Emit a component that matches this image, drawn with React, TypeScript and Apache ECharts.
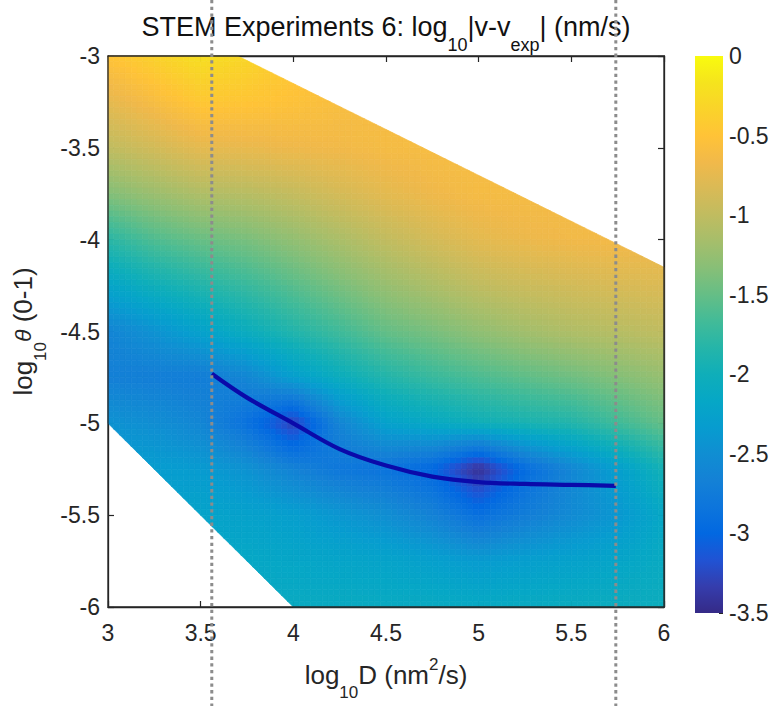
import React, { useEffect, useRef } from "react";
import * as echarts from "echarts";

// ---------------- data ----------------
const X_NODES = [3, 3.25, 3.5, 3.75, 4, 4.25, 4.5, 4.75, 5, 5.25, 5.5, 5.75, 6];
const Y_NODES = [-3, -3.25, -3.5, -3.75, -4, -4.25, -4.5, -4.75, -5, -5.25, -5.5, -5.75, -6];

// log10|v - v_exp| at the nodes, one row per Y_NODES entry (columns follow X_NODES)
const ROW_Y300 = [-0.5, -0.35, -0.22, -0.3, -0.45, -0.55, -0.6, -0.6, -0.6, -0.6, -0.6, -0.6, -0.6];
const ROW_Y325 = [-0.75, -0.6, -0.45, -0.48, -0.52, -0.58, -0.6, -0.6, -0.6, -0.6, -0.6, -0.6, -0.6];
const ROW_Y350 = [-1.0, -0.88, -0.75, -0.72, -0.68, -0.66, -0.62, -0.6, -0.6, -0.6, -0.6, -0.6, -0.6];
const ROW_Y375 = [-1.35, -1.22, -1.1, -1.05, -0.97, -0.86, -0.76, -0.68, -0.62, -0.62, -0.62, -0.62, -0.62];
const ROW_Y400 = [-1.8, -1.6, -1.48, -1.4, -1.27, -1.13, -0.99, -0.87, -0.76, -0.7, -0.66, -0.64, -0.64];
const ROW_Y425 = [-2.2, -2.0, -1.85, -1.72, -1.56, -1.4, -1.24, -1.12, -1.0, -0.93, -0.88, -0.84, -0.82];
const ROW_Y450 = [-2.62, -2.45, -2.25, -2.05, -1.85, -1.68, -1.5, -1.4, -1.28, -1.18, -1.1, -1.05, -1.0];
const ROW_Y475 = [-2.68, -2.7, -2.72, -2.6, -2.3, -2.05, -1.85, -1.72, -1.62, -1.53, -1.45, -1.35, -1.25];
const ROW_Y500 = [-2.45, -2.5, -2.6, -2.88, -3.3, -2.62, -2.25, -2.12, -2.0, -1.92, -1.85, -1.68, -1.5];
const ROW_Y525 = [-2.3, -2.32, -2.35, -2.45, -2.65, -2.8, -2.85, -3.0, -3.45, -2.95, -2.6, -2.3, -1.95];
const ROW_Y550 = [-2.2, -2.22, -2.22, -2.25, -2.3, -2.4, -2.5, -2.65, -2.9, -2.72, -2.55, -2.4, -2.15];
const ROW_Y575 = [-2.15, -2.15, -2.15, -2.15, -2.18, -2.2, -2.22, -2.28, -2.35, -2.3, -2.25, -2.2, -2.1];
const ROW_Y600 = [-2.1, -2.1, -2.1, -2.1, -2.1, -2.1, -2.1, -2.1, -2.12, -2.1, -2.08, -2.06, -2.05];
const FIELD_ROWS = [
  ROW_Y300, ROW_Y325, ROW_Y350, ROW_Y375, ROW_Y400, ROW_Y425, ROW_Y450,
  ROW_Y475, ROW_Y500, ROW_Y525, ROW_Y550, ROW_Y575, ROW_Y600,
];

// edges of the simulated region (straight lines through two points)
const UPPER_EDGE_X = [3.7, 6];
const UPPER_EDGE_Y = [-3, -4.15];
const LOWER_EDGE_X = [3, 4];
const LOWER_EDGE_Y = [-5, -6];

// best-fit curve
const CURVE_X = [3.56, 3.75, 4.0, 4.25, 4.5, 4.75, 5.0, 5.25, 5.5, 5.74];
const CURVE_Y = [-4.73, -4.86, -5.0, -5.14, -5.23, -5.29, -5.32, -5.33, -5.335, -5.34];

// dotted vertical guides
const GUIDE_X = [3.56, 5.74];

const X_RANGE = [3, 6];
const Y_RANGE = [-6, -3];
const C_RANGE = [-3.5, 0];
const TICK_STEP = 0.5;

// ---------------- styling ----------------
const FONT = '"Liberation Sans", Arial, Helvetica, sans-serif';
const INK = "#262626";
const SUBDIV = 8;

// MATLAB parula colormap (every 3rd entry of the 64-entry table)
const PARULA = [
  [0.2081, 0.1663, 0.5292], [0.2081, 0.2386, 0.6771], [0.1253, 0.3242, 0.8303],
  [0.006, 0.4086, 0.8828], [0.0498, 0.4586, 0.8641], [0.0779, 0.504, 0.8384],
  [0.0641, 0.557, 0.824], [0.0265, 0.6137, 0.8135], [0.0228, 0.6535, 0.7768],
  [0.059, 0.6838, 0.7254], [0.1453, 0.7098, 0.6646], [0.2586, 0.7317, 0.5954],
  [0.3953, 0.7459, 0.5244], [0.53, 0.7491, 0.4661], [0.6473, 0.7456, 0.4188],
  [0.7525, 0.7384, 0.3768], [0.8507, 0.7299, 0.336], [0.945, 0.7261, 0.2886],
  [0.999, 0.7653, 0.2164], [0.9789, 0.8271, 0.1633], [0.9589, 0.8949, 0.1132],
  [0.9763, 0.9831, 0.0538],
];

function rgb(c: number[]) {
  return `rgb(${Math.round(c[0] * 255)},${Math.round(c[1] * 255)},${Math.round(c[2] * 255)})`;
}

function parula(t: number) {
  const tt = Math.max(0, Math.min(1, t));
  const n = PARULA.length - 1;
  const f = tt * n;
  const i = Math.min(Math.floor(f), n - 1);
  const u = f - i;
  const a = PARULA[i];
  const b = PARULA[i + 1];
  return rgb([a[0] + (b[0] - a[0]) * u, a[1] + (b[1] - a[1]) * u, a[2] + (b[2] - a[2]) * u]);
}

type P = number[];
function clipHalf(poly: P[], ex: number[], ey: number[], keepBelow: boolean): P[] {
  const s = (p: P) => {
    const ly = ey[0] + ((ey[1] - ey[0]) * (p[0] - ex[0])) / (ex[1] - ex[0]);
    const d = p[1] - ly;
    return keepBelow ? -d : d;
  };
  const out: P[] = [];
  for (let i = 0; i < poly.length; i++) {
    const A = poly[i];
    const B = poly[(i + 1) % poly.length];
    const sa = s(A);
    const sb = s(B);
    if (sa >= 0) out.push(A);
    if (sa >= 0 !== sb >= 0) {
      const t = sa / (sa - sb);
      out.push([A[0] + (B[0] - A[0]) * t, A[1] + (B[1] - A[1]) * t]);
    }
  }
  return out;
}

function buildCells() {
  const cells: number[][] = [];
  for (let r = 0; r < Y_NODES.length - 1; r++) {
    for (let c = 0; c < X_NODES.length - 1; c++) {
      cells.push([
        X_NODES[c], Y_NODES[r], X_NODES[c + 1], Y_NODES[r + 1],
        FIELD_ROWS[r][c], FIELD_ROWS[r][c + 1], FIELD_ROWS[r + 1][c], FIELD_ROWS[r + 1][c + 1],
      ]);
    }
  }
  return cells;
}

function renderField(_params: any, api: any) {
  const x0 = api.value(0), y0 = api.value(1), x1 = api.value(2), y1 = api.value(3);
  const v00 = api.value(4), v10 = api.value(5), v01 = api.value(6), v11 = api.value(7);
  const children: any[] = [];
  for (let a = 0; a < SUBDIV; a++) {
    for (let b = 0; b < SUBDIV; b++) {
      const sx0 = x0 + ((x1 - x0) * a) / SUBDIV;
      const sx1 = x0 + ((x1 - x0) * (a + 1)) / SUBDIV;
      const sy0 = y0 + ((y1 - y0) * b) / SUBDIV;
      const sy1 = y0 + ((y1 - y0) * (b + 1)) / SUBDIV;
      let poly: P[] = [[sx0, sy0], [sx1, sy0], [sx1, sy1], [sx0, sy1]];
      poly = clipHalf(poly, UPPER_EDGE_X, UPPER_EDGE_Y, true);
      if (poly.length < 3) continue;
      poly = clipHalf(poly, LOWER_EDGE_X, LOWER_EDGE_Y, false);
      if (poly.length < 3) continue;
      const u = (a + 0.5) / SUBDIV;
      const w = (b + 0.5) / SUBDIV;
      const v = v00 * (1 - u) * (1 - w) + v10 * u * (1 - w) + v01 * (1 - u) * w + v11 * u * w;
      const color = parula((v - C_RANGE[0]) / (C_RANGE[1] - C_RANGE[0]));
      children.push({
        type: "polygon",
        shape: { points: poly.map((p) => api.coord(p)) },
        style: { fill: color, stroke: color, lineWidth: 0.7 },
      });
    }
  }
  return { type: "group", children };
}

const SUB = { fontSize: 17, fontFamily: FONT, color: INK, verticalAlign: "top", padding: [36, 0, 0, 0] };
const SUP = { fontSize: 17, fontFamily: FONT, color: INK, verticalAlign: "top", padding: [8, 0, 0, 0] };

export default function App() {
  const ref = useRef<HTMLDivElement>(null);
  useEffect(() => {
    if (!ref.current) return;
    const chart = echarts.init(ref.current, null, { renderer: "svg" });
    const cells = buildCells();
    const boxAxis = {
      type: "value",
      min: X_RANGE[0],
      max: X_RANGE[1],
      interval: TICK_STEP,
      gridIndex: 0,
      axisLine: { show: true, onZero: false, lineStyle: { color: INK, width: 1.3 } },
      axisTick: { show: true, inside: true, length: 6, lineStyle: { color: INK, width: 1.2 } },
      splitLine: { show: false },
    };
    const option: any = {
      animation: false,
      backgroundColor: "#ffffff",
      title: {
        text: "STEM Experiments 6: log{sub|10}|v-v{sub|exp}| (nm/s)",
        left: "center",
        top: 0,
        padding: 0,
        textStyle: {
          fontFamily: FONT,
          fontSize: 27,
          fontWeight: "normal",
          color: "#111111",
          rich: { sub: { ...SUB, fontSize: 18, color: "#111111" } },
        },
      },
      grid: [
        { left: 108, top: 56, width: 556, height: 557 },
        { left: 695, top: 56, width: 28, height: 557 },
      ],
      xAxis: [
        {
          ...boxAxis,
          position: "bottom",
          axisLabel: { fontFamily: FONT, fontSize: 23, color: INK, margin: 14 },
          name: "log{sub|10}D (nm{sup|2}/s)",
          nameLocation: "middle",
          nameGap: 41,
          nameTextStyle: { fontFamily: FONT, fontSize: 26, color: INK, rich: { sub: SUB, sup: SUP } },
        },
        { ...boxAxis, position: "top", axisLabel: { show: false } },
        { type: "value", gridIndex: 1, min: 0, max: 1, show: false },
      ],
      yAxis: [
        {
          ...boxAxis,
          min: Y_RANGE[0],
          max: Y_RANGE[1],
          position: "left",
          axisLabel: { fontFamily: FONT, fontSize: 23, color: INK, margin: 8 },
          name: "log{sub|10}{th|θ} (0-1)",
          nameLocation: "middle",
          nameGap: 47,
          nameTextStyle: {
            fontFamily: FONT,
            fontSize: 26,
            color: INK,
            rich: { sub: SUB, th: { fontFamily: FONT, fontSize: 23, fontStyle: "italic", color: INK } },
          },
        },
        { ...boxAxis, min: Y_RANGE[0], max: Y_RANGE[1], position: "right", axisLabel: { show: false } },
        {
          type: "value",
          gridIndex: 1,
          min: C_RANGE[0],
          max: C_RANGE[1],
          interval: TICK_STEP,
          position: "right",
          axisLine: { show: false, onZero: false },
          axisTick: { show: true, inside: true, length: 4, lineStyle: { color: INK } },
          axisLabel: { fontFamily: FONT, fontSize: 23, color: INK, margin: 6 },
          splitLine: { show: false },
        },
      ],
      series: [
        {
          type: "custom",
          name: "field",
          xAxisIndex: 0,
          yAxisIndex: 0,
          silent: true,
          z: 2,
          encode: { x: [0, 2], y: [1, 3] },
          data: cells,
          renderItem: renderField,
        },
        {
          type: "line",
          name: "fit",
          xAxisIndex: 0,
          yAxisIndex: 0,
          silent: true,
          z: 4,
          smooth: 0.35,
          symbol: "none",
          lineStyle: { color: "#0a0aaa", width: 4.2 },
          data: CURVE_X.map((x, i) => [x, CURVE_Y[i]]),
        },
        {
          type: "custom",
          name: "frame",
          xAxisIndex: 0,
          yAxisIndex: 0,
          silent: true,
          z: 6,
          encode: { x: [0, 2], y: [1, 3] },
          data: [[X_RANGE[0], Y_RANGE[0], X_RANGE[1], Y_RANGE[1]]],
          renderItem: (_p: any, api: any) => {
            const tl = api.coord([api.value(0), api.value(3)]);
            const br = api.coord([api.value(2), api.value(1)]);
            return {
              type: "rect",
              shape: { x: tl[0], y: tl[1], width: br[0] - tl[0], height: br[1] - tl[1] },
              style: { fill: "none", stroke: INK, lineWidth: 1.3 },
            };
          },
        },
        {
          type: "custom",
          name: "colorbar",
          xAxisIndex: 2,
          yAxisIndex: 2,
          silent: true,
          z: 2,
          encode: { x: [0, 2], y: [1, 3] },
          data: [[0, C_RANGE[0], 1, C_RANGE[1]]],
          renderItem: (_p: any, api: any) => {
            const tl = api.coord([api.value(0), api.value(3)]);
            const br = api.coord([api.value(2), api.value(1)]);
            const n = PARULA.length - 1;
            return {
              type: "rect",
              shape: { x: tl[0], y: tl[1], width: br[0] - tl[0], height: br[1] - tl[1] },
              style: {
                fill: {
                  type: "linear", x: 0, y: 0, x2: 0, y2: 1,
                  colorStops: PARULA.map((_c, k) => ({ offset: k / n, color: rgb(PARULA[n - k]) })),
                },
              },
            };
          },
        },
        {
          type: "custom",
          name: "guides",
          xAxisIndex: 0,
          yAxisIndex: 0,
          silent: true,
          clip: false,
          z: 20,
          encode: { x: 0, y: 1 },
          data: GUIDE_X.map((x) => [x, Y_RANGE[0]]),
          renderItem: (_p: any, api: any) => {
            const px = api.coord([api.value(0), api.value(1)])[0];
            return {
              type: "line",
              shape: { x1: px, y1: 0, x2: px, y2: api.getHeight() },
              style: { stroke: "#8c8c8c", lineWidth: 3, lineDash: [3.3, 3.4] },
            };
          },
        },
      ],
    };
    chart.setOption(option);
    return () => chart.dispose();
  }, []);
  return (
    <div
      ref={ref}
      style={{ position: "absolute", left: 0, top: 0, width: 772, height: 706, background: "#fff" }}
    />
  );
}
